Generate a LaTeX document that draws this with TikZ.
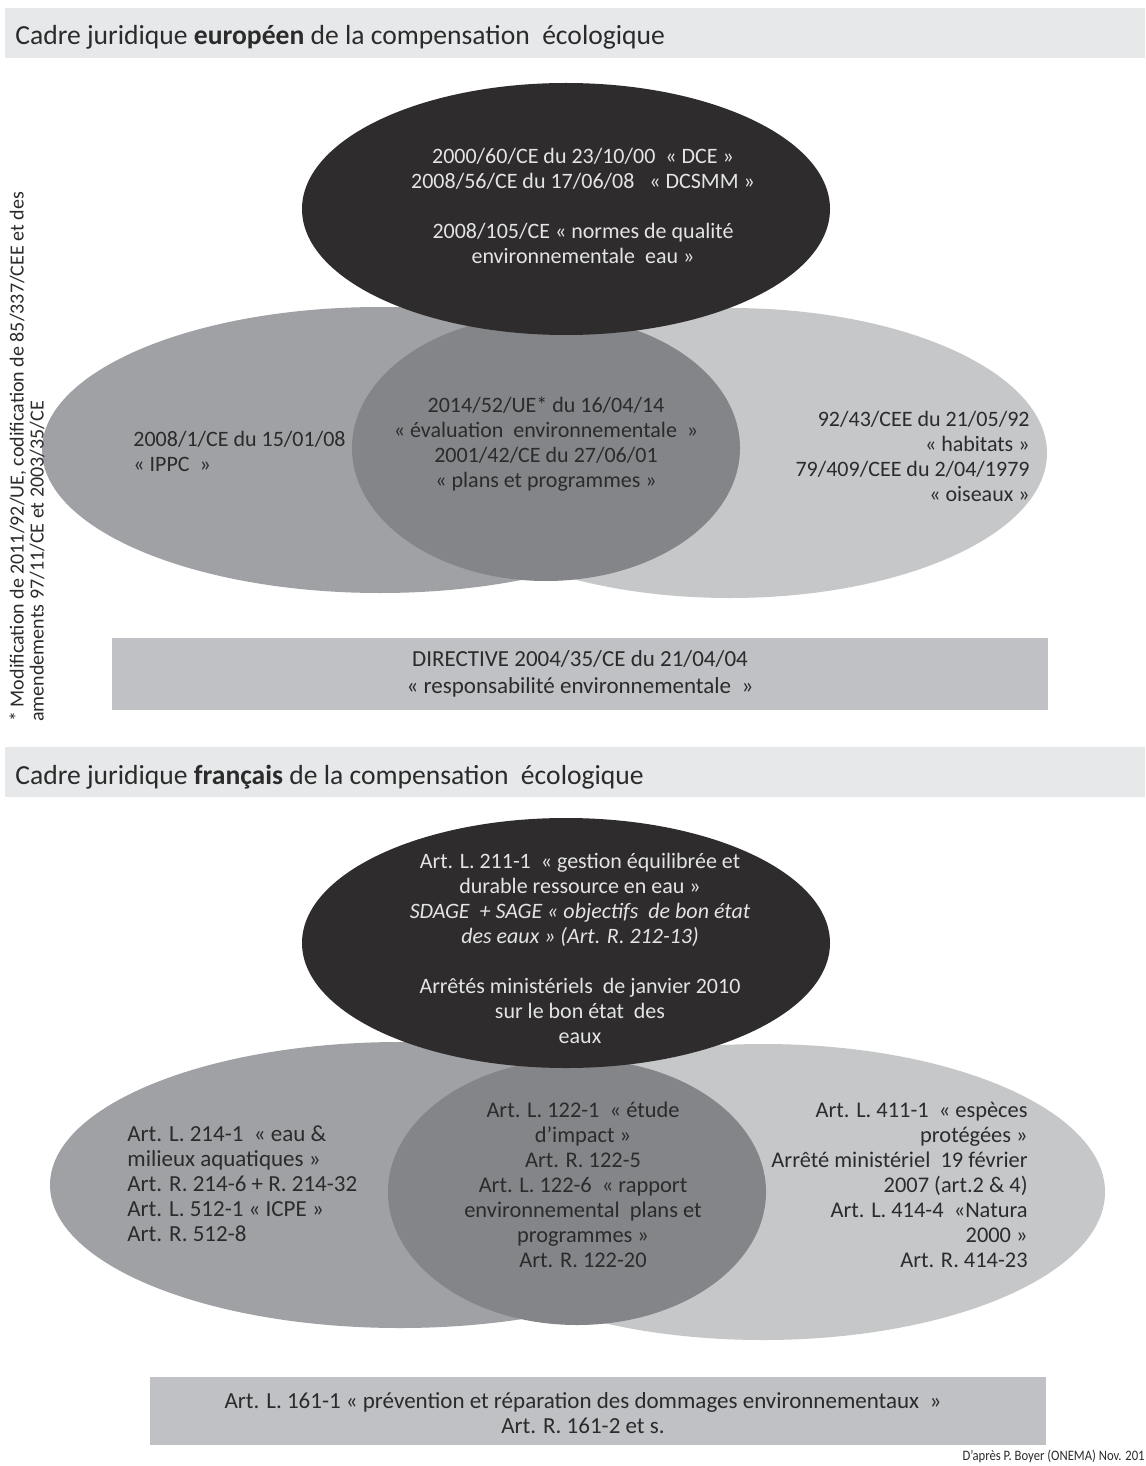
\documentclass[tikz,border=0pt]{standalone}
\usepackage{fontspec}
\setmainfont{Carlito}
\newfontfamily\condf[FakeStretch=0.88]{Carlito}
\usetikzlibrary{shapes.geometric}
\definecolor{cdark}{HTML}{2E2C2D}
\definecolor{cleft}{HTML}{A0A1A5}
\definecolor{cmid}{HTML}{848589}
\definecolor{cright}{HTML}{C6C7C9}
\definecolor{crect}{HTML}{C0C1C4}
\definecolor{cbar}{HTML}{E7E8E9}
\definecolor{ctxt}{HTML}{2B2B2B}
\definecolor{clight}{HTML}{E4E4E4}
\tikzset{
  ell/.style={ellipse, inner sep=0pt, draw=none},
  body/.style={text=ctxt, inner sep=0pt, font=\fontsize{11}{12.5}\selectfont},
  bodyl/.style={body, text=clight},
  titletxt/.style={text=ctxt, inner sep=0pt, font=\fontsize{13.8}{16}\selectfont, anchor=base west},
  barbox/.style={fill=cbar, draw=none},
  rectbox/.style={fill=crect, draw=none},
}
\begin{document}
\begin{tikzpicture}[x=0.5pt,y=-0.5pt]
\useasboundingbox[fill=white] (0,0) rectangle (1145,1466);
% ---------- European ----------
\path[barbox] (5,8) rectangle (1145,58);
\node[titletxt] (t1) at (15,45) {Cadre juridique \textbf{européen} de la compensation \ écologique};
\node[ell, fill=cright, minimum width=317pt, minimum height=145pt] (er) at (730,453) {};
\node[ell, fill=cleft, minimum width=338pt, minimum height=143pt] (el) at (380,450) {};
\node[ell, fill=cmid, minimum width=194pt, minimum height=133pt] (em) at (546,448) {};
\node[ell, fill=cdark, minimum width=264pt, minimum height=126pt] (ed) at (566,209) {};
\node[bodyl, align=center] (edt) at (583,206) {2000/60/CE du 23/10/00 \ « DCE »\\
2008/56/CE du 17/06/08 \ \ « DCSMM »\\[12.5pt]
2008/105/CE « normes de qualité\\
environnementale \ eau »};
\node[body, align=left, anchor=west] (elt) at (133,451) {2008/1/CE du 15/01/08\\« IPPC \ »};
\node[body, align=center] (emt) at (546,444) {2014/52/UE* du 16/04/14\\
« évaluation \ environnementale \ »\\
2001/42/CE du 27/06/01\\
« plans et programmes »};
\node[body, align=right, anchor=east] (ert) at (1030,456) {92/43/CEE du 21/05/92\\
« habitats »\\
79/409/CEE du 2/04/1979\\
« oiseaux »};
\node[rectbox, minimum width=468pt, minimum height=36pt, inner sep=0pt] (r1) at (580,674) {};
\node[body, align=center, font=\fontsize{11.5}{13.5}\selectfont] (r1t) at (580,674) {DIRECTIVE 2004/35/CE du 21/04/04\\« responsabilité environnementale \ »};
\node[text=ctxt, inner sep=0pt, rotate=90, anchor=north west, align=left, font=\fontsize{10}{10}\selectfont] (side) at (9,722) {* Modification de 2011/92/UE, codification de 85/337/CEE et des\\amendements 97/11/CE et 2003/35/CE};
% ---------- French ----------
\path[barbox] (5,747) rectangle (1145,797);
\node[titletxt] (t2) at (15,784) {Cadre juridique \textbf{français} de la compensation \ écologique};
\node[ell, fill=cright, minimum width=342pt, minimum height=148pt] (fr) at (763,1192) {};
\node[ell, fill=cleft, minimum width=350pt, minimum height=143pt] (fl) at (400,1185) {};
\node[ell, fill=cmid, minimum width=189pt, minimum height=133pt] (fm) at (577,1192) {};
\node[ell, fill=cdark, minimum width=264pt, minimum height=125pt] (fd) at (566,943) {};
\node[bodyl, align=center] (fdt) at (580,948) {Art. L. 211-1 \ « gestion équilibrée et\\
durable ressource en eau »\\
\textit{SDAGE \ + SAGE « objectifs \ de bon état}\\
\textit{des eaux » (Art. R. 212-13)}\\[12.5pt]
Arrêtés ministériels \ de janvier 2010\\
sur le bon état \ des\\
eaux};
\node[body, align=left, anchor=west, font=\fontsize{11.5}{12.5}\selectfont] (flt) at (127,1184) {Art. L. 214-1 \ « eau \&\\
milieux aquatiques »\\
Art. R. 214-6 + R. 214-32\\
Art. L. 512-1 « ICPE »\\
Art. R. 512-8};
\node[body, align=center, font=\fontsize{11.2}{12.5}\selectfont] (fmt) at (583,1185) {Art. L. 122-1 \ « étude\\
d’impact »\\
Art. R. 122-5\\
Art. L. 122-6 \ « rapport\\
environnemental \ plans et\\
programmes »\\
Art. R. 122-20};
\node[body, align=right, anchor=east, font=\fontsize{11.2}{12.5}\selectfont] (frt) at (1028,1185) {Art. L. 411-1 \ « espèces\\
protégées »\\
Arrêté ministériel \ 19 février\\
2007 (art.2 \& 4)\\
Art. L. 414-4 \ «Natura\\
2000 »\\
Art. R. 414-23};
\node[rectbox, minimum width=448pt, minimum height=34pt, inner sep=0pt] (r2) at (598,1411) {};
\node[body, align=center, font=\fontsize{11.5}{12.5}\selectfont] (r2t) at (583,1413) {Art. L. 161-1 « prévention et réparation des dommages environnementaux \ »\\Art. R. 161-2 et s.};
\node[text=ctxt, inner sep=0pt, anchor=base east, font=\condf\fontsize{7.2}{10}\selectfont] (cred) at (1145,1460) {D’après P. Boyer (ONEMA) Nov. 201};
\end{tikzpicture}
\end{document}
